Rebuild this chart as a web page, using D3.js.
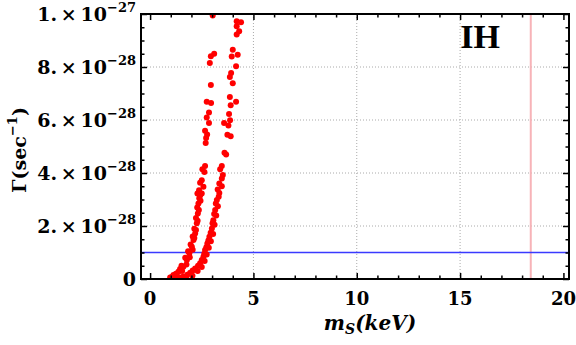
<!DOCTYPE html>
<html>
<head>
<meta charset="utf-8">
<script src="https://cdn.jsdelivr.net/npm/d3@7"></script>
<style>
  body { margin: 0; background: #fff; }
  text { font-family: "DejaVu Serif", serif; font-weight: bold; }
  text.times { font-family: "Liberation Serif", "Times New Roman", serif; }
</style>
</head>
<body>
<div id="chart"></div>
<script>
// Data (gamma in units of 1e-28 sec^-1, m_s in keV)
const leftBranch = [
  [3.03, 9.94], [3.10, 8.50], [2.94, 8.41], [2.89, 8.15], [2.94, 7.32], [2.74, 6.69],
  [2.95, 6.64], [2.85, 6.28], [2.74, 6.09], [2.85, 5.89], [2.66, 5.59], [2.76, 5.45],
  [2.71, 5.32], [2.69, 5.13], [2.66, 4.26], [2.53, 4.14], [2.63, 4.04], [2.50, 3.73],
  [2.42, 3.63], [2.58, 3.48], [2.37, 3.35], [2.50, 3.23], [2.29, 3.23], [2.42, 3.15],
  [2.34, 2.85], [2.31, 2.47], [2.26, 2.10], [2.18, 1.72], [2.10, 1.47], [2.02, 1.22],
  [1.90, 0.97], [1.78, 0.72], [1.61, 0.46], [1.37, 0.27], [1.13, 0.15], [0.97, 0.06],
  [2.38, 3.05], [2.44, 2.95], [2.28, 2.70], [2.36, 2.60], [2.22, 2.30], [2.30, 2.20],
  [2.14, 1.90], [2.22, 1.85], [2.06, 1.60], [2.14, 1.55], [1.96, 1.30], [2.06, 1.10],
  [1.84, 1.05], [1.92, 0.82], [1.70, 0.80], [1.76, 0.55], [1.52, 0.50], [1.55, 0.30],
  [1.45, 0.38], [1.25, 0.20], [1.30, 0.10], [1.05, 0.08], [1.20, 0.05]
];
const rightBranch = [
  [4.19, 9.73], [4.40, 9.69], [4.19, 9.54], [4.31, 9.35], [4.19, 9.23], [4.00, 8.65],
  [4.24, 8.46], [3.95, 8.40], [4.16, 8.03], [3.92, 7.77], [3.86, 7.62], [4.00, 7.39],
  [3.86, 6.87], [4.16, 6.69], [3.90, 6.56], [3.82, 6.23], [3.87, 5.99], [3.58, 5.89],
  [3.79, 5.79], [3.74, 5.44], [3.90, 5.39], [3.60, 4.76], [3.68, 4.70], [3.47, 4.26],
  [3.39, 4.14], [3.52, 3.92], [3.47, 3.79], [3.35, 3.60], [3.47, 3.50], [3.27, 3.38],
  [3.35, 3.25], [3.23, 2.98], [3.15, 2.60], [3.06, 2.22], [2.99, 1.91], [2.87, 1.59],
  [2.77, 1.34], [2.66, 1.09], [2.58, 0.84], [2.42, 0.59], [2.18, 0.40], [1.94, 0.24],
  [1.61, 0.09], [1.29, 0.03], [3.32, 3.10], [3.18, 2.85], [3.28, 2.75], [3.10, 2.45],
  [3.20, 2.40], [3.02, 2.10], [3.12, 2.05], [2.93, 1.75], [3.05, 1.70], [2.82, 1.45],
  [2.94, 1.42], [2.72, 1.20], [2.84, 1.18], [2.62, 0.95], [2.74, 0.92], [2.50, 0.72],
  [2.64, 0.68], [2.32, 0.50], [2.50, 0.45], [2.06, 0.32], [2.30, 0.30], [1.80, 0.16],
  [2.05, 0.12], [1.45, 0.06], [1.75, 0.04]
];
const xTicks = [0, 5, 10, 15, 20];
const yTicks = [0, 2, 4, 6, 8, 10];
const yTickLabels = ['0', '2.', '4.', '6.', '8.', '1.'];
const yTickExps = ['', '\u221228', '\u221228', '\u221228', '\u221228', '\u221227'];
const bound = 1;         // horizontal line, 1e-28
const massLimit = 18.42; // vertical line, keV

const width = 576;
const height = 345;
const margin = { top: 14, right: 7, bottom: 66, left: 141 };

const usableArea = {
  top: margin.top,
  right: width - margin.right,
  bottom: height - margin.bottom,
  left: margin.left
};

const svg = d3.select('#chart')
  .append('svg')
  .attr('width', width)
  .attr('height', height);

const xScale = d3.scaleLinear()
  .domain([-0.44, 20.27])
  .range([usableArea.left, usableArea.right]);

const yScale = d3.scaleLinear()
  .domain([0, 10])
  .range([usableArea.bottom, usableArea.top]);

// Gridlines
const grid = svg.append('g')
  .attr('stroke', '#aaa')
  .attr('stroke-width', 1)
  .attr('stroke-dasharray', '1,2');

grid.selectAll('line.gx')
  .data([5, 10, 15])
  .join('line')
  .attr('x1', (d) => xScale(d)).attr('x2', (d) => xScale(d))
  .attr('y1', usableArea.top).attr('y2', usableArea.bottom);

grid.selectAll('line.gy')
  .data([2, 4, 6, 8])
  .join('line')
  .attr('class', 'gy')
  .attr('y1', (d) => yScale(d)).attr('y2', (d) => yScale(d))
  .attr('x1', usableArea.left).attr('x2', usableArea.right);

// Reference lines
svg.append('line')
  .attr('x1', xScale(massLimit)).attr('x2', xScale(massLimit))
  .attr('y1', usableArea.top).attr('y2', usableArea.bottom)
  .attr('stroke', '#f7b3b8')
  .attr('stroke-width', 2);

svg.append('line')
  .attr('x1', usableArea.left).attr('x2', usableArea.right)
  .attr('y1', yScale(bound)).attr('y2', yScale(bound))
  .attr('stroke', '#3a3aff')
  .attr('stroke-width', 1.3);

// Dots
svg.append('clipPath').attr('id', 'clip')
  .append('rect')
  .attr('x', usableArea.left).attr('y', usableArea.top)
  .attr('width', usableArea.right - usableArea.left)
  .attr('height', usableArea.bottom - usableArea.top);

svg.append('g')
  .attr('clip-path', 'url(#clip)')
  .selectAll('circle')
  .data(leftBranch.concat(rightBranch))
  .join('circle')
  .attr('cx', (d) => xScale(d[0]))
  .attr('cy', (d) => yScale(d[1]))
  .attr('r', 3)
  .attr('fill', '#ff0000');

// Frame ticks (inward)
const xMinor = d3.range(0, 21, 1).filter((d) => d % 5 !== 0);
const yMinor = d3.range(0, 10.01, 0.5).filter((d) => d % 2 !== 0);

function frameAxis(axisFn, scale, major, minor, transform) {
  const g = svg.append('g').attr('transform', transform);
  g.call(axisFn(scale).tickValues(major).tickSize(-6).tickFormat(''));
  g.append('g').call(axisFn(scale).tickValues(minor).tickSize(-3.5).tickFormat(''));
  g.selectAll('.domain').remove();
  g.selectAll('line').attr('stroke', '#000').attr('stroke-width', 1.5);
  g.selectAll('text').remove();
  return g;
}

frameAxis(d3.axisBottom, xScale, xTicks, xMinor, `translate(0,${usableArea.bottom})`);
frameAxis(d3.axisTop, xScale, xTicks, xMinor, `translate(0,${usableArea.top})`);
frameAxis(d3.axisLeft, yScale, yTicks, yMinor, `translate(${usableArea.left},0)`);
frameAxis(d3.axisRight, yScale, yTicks, yMinor, `translate(${usableArea.right},0)`);

svg.append('rect')
  .attr('x', usableArea.left).attr('y', usableArea.top)
  .attr('width', usableArea.right - usableArea.left)
  .attr('height', usableArea.bottom - usableArea.top)
  .attr('fill', 'none')
  .attr('stroke', '#000')
  .attr('stroke-width', 2);

// Tick labels
svg.append('g')
  .selectAll('text')
  .data(xTicks)
  .join('text')
  .attr('x', (d) => xScale(d))
  .attr('y', usableArea.bottom + 26)
  .attr('text-anchor', 'middle')
  .attr('font-size', 18)
  .text((d) => d);

const yLabels = svg.append('g')
  .selectAll('text')
  .data(yTicks)
  .join('text')
  .attr('x', usableArea.left - 5)
  .attr('y', (d) => yScale(d) + 7)
  .attr('text-anchor', 'end')
  .attr('font-size', 19)
  .attr('xml:space', 'preserve');

yLabels.each(function (d, i) {
  const t = d3.select(this);
  if (i === 0) { t.text('0'); return; }
  t.append('tspan').text(yTickLabels[i] + '\u2009\u00d7\u200910');
  t.append('tspan').attr('dy', -9).attr('font-size', 13).text(yTickExps[i]);
});

// Axis titles
const xTitle = svg.append('text')
  .attr('x', 370)
  .attr('y', 330)
  .attr('text-anchor', 'middle')
  .attr('font-size', 20)
  .attr('font-style', 'italic');
xTitle.append('tspan').text('m');
xTitle.append('tspan').attr('dy', 4).attr('font-size', 14).text('S');
xTitle.append('tspan').attr('dy', -4).text('(keV)');

const yTitle = svg.append('text')
  .attr('transform', 'translate(26,150) rotate(-90)')
  .attr('text-anchor', 'middle')
  .attr('font-size', 19);
yTitle.append('tspan').text('\u0393(sec');
yTitle.append('tspan').attr('dy', -9).attr('font-size', 13).text('\u22121');
yTitle.append('tspan').attr('dy', 9).text(')');

svg.append('text')
  .attr('class', 'times')
  .attr('x', 480)
  .attr('y', 48)
  .attr('text-anchor', 'middle')
  .attr('font-size', 34)
  .text('IH');
</script>
</body>
</html>
